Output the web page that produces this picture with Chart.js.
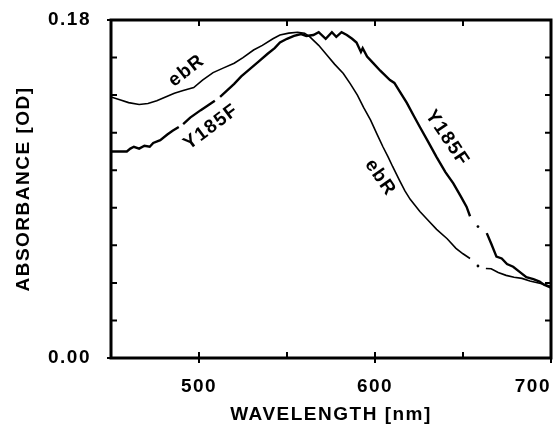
<!DOCTYPE html>
<html>
<head>
<meta charset="utf-8">
<script src="https://cdn.jsdelivr.net/npm/chart.js@4.4.1/dist/chart.umd.min.js"></script>
<style>
  html, body { margin: 0; padding: 0; background: #fff; }
  canvas { display: block; }
</style>
</head>
<body>
<canvas id="absChart" width="559" height="426"></canvas>
<script>
// ebR spectrum (nm, OD) - null = gap in the trace
const ebrWavelength = [450, 455, 460, 466, 471, 476, 481, 486, 491, 497, 502, 508, 514, 520, 525, 531, 536, 542, 546, 551, 556, 560, 563, 568, 573, 577, 582, 586, 590, 593.5, 597.5, 601, 604.5, 607.5, 610, 614, 617, 620, 625.5, 630, 635, 641, 646, 650, 654, 656, 658.5, 661, 663, 666, 670, 674.5, 679, 683.5, 688, 693.5, 697, 700];
const ebrAbsorbance = [0.139, 0.1375, 0.136, 0.135, 0.1355, 0.137, 0.139, 0.141, 0.1425, 0.144, 0.148, 0.152, 0.1545, 0.157, 0.160, 0.164, 0.1665, 0.170, 0.172, 0.173, 0.1735, 0.173, 0.171, 0.1665, 0.161, 0.1565, 0.1515, 0.146, 0.140, 0.1335, 0.1267, 0.1195, 0.1125, 0.107, 0.102, 0.0945, 0.089, 0.0845, 0.078, 0.0735, 0.0685, 0.0635, 0.0584, 0.0555, 0.053, null, 0.049, null, 0.0477, 0.0475, 0.0455, 0.044, 0.043, 0.0424, 0.041, 0.0398, 0.039, 0.038];

// Y185F spectrum (nm, OD)
const y185fWavelength = [450, 455, 459, 461, 463, 466, 469, 472, 474, 478, 482, 485, 488.5, 490, 491, 495, 501, 505, 509, 510.5, 512, 516, 520, 524, 529, 534, 539, 543, 546, 550, 554, 558, 561, 565, 568, 572, 575.5, 578, 581, 584, 587, 589.5, 592, 593, 595.5, 599, 603, 608.5, 611, 614, 618, 622, 625.5, 630, 635, 640, 644.5, 648.5, 652, 654, 656, 658.5, 661, 663.5, 666, 669, 672, 675, 678.5, 682, 686, 690, 693.5, 696, 700];
const y185fAbsorbance = [0.110, 0.110, 0.110, 0.1115, 0.1125, 0.1115, 0.113, 0.1125, 0.1145, 0.116, 0.119, 0.121, 0.123, null, 0.1245, 0.128, 0.132, 0.1345, 0.137, null, 0.139, 0.1425, 0.146, 0.150, 0.154, 0.158, 0.162, 0.165, 0.168, 0.170, 0.1715, 0.1725, 0.1715, 0.172, 0.1735, 0.170, 0.1735, 0.171, 0.1735, 0.172, 0.170, 0.168, 0.163, 0.165, 0.1605, 0.157, 0.153, 0.148, 0.1465, 0.142, 0.136, 0.129, 0.123, 0.1155, 0.107, 0.099, 0.093, 0.0865, 0.0806, 0.0755, null, 0.070, null, 0.0665, 0.061, 0.054, 0.053, 0.050, 0.0486, 0.046, 0.043, 0.042, 0.0407, 0.039, 0.0375];

// axes
const xLabelValues = [450, 500, 600, 700];
const xLabelText = ['', '500', '600', '700'];
const xTickMarks = [500, 550, 600, 650, 700];
const xMajorMarks = [500, 600, 700];
const yLabelValues = [0, 0.18];
const yLabelText = ['0.00', '0.18'];
const yTickMarks = [0.02, 0.04, 0.06, 0.08, 0.10, 0.12, 0.14, 0.16];

// curve annotations [text, wavelength, absorbance, angle]
const curveLabels = [
    ['ebR', 493, 0.153, -38],
    ['Y185F', 507, 0.123, -37],
    ['Y185F', 641, 0.117, 56],
    ['ebR', 603, 0.096, 55]
];

const FONT = "'Liberation Sans', Arial, Helvetica, sans-serif";

function toPoints(xs, ys) {
    return xs.map((v, i) => ({ x: v, y: ys[i] }));
}

// a lone point between two gaps is drawn as a dot
function dotRadius(ctx) {
    const d = ctx.dataset.data;
    const i = ctx.dataIndex;
    if (d[i].y === null) return 0;
    const prev = i > 0 ? d[i - 1].y : null;
    const next = i < d.length - 1 ? d[i + 1].y : null;
    return (prev === null && next === null) ? 1.4 : 0;
}

const framePlugin = {
    id: 'frame',
    beforeDraw(chart) {
        chart.ctx.letterSpacing = '1.5px';
    },
    afterDraw(chart) {
        const { ctx, chartArea: { left, right, top, bottom }, scales: { x, y } } = chart;
        ctx.save();
        ctx.strokeStyle = '#000';
        ctx.lineWidth = 2;
        ctx.beginPath();
        xTickMarks.forEach(v => {
            const px = x.getPixelForValue(v);
            const out = xMajorMarks.includes(v) ? 5 : 0;
            ctx.moveTo(px, bottom - 6);
            ctx.lineTo(px, bottom + out);
            if (v < 700) {
                ctx.moveTo(px, top);
                ctx.lineTo(px, top + 6);
            }
        });
        yTickMarks.forEach(v => {
            const py = y.getPixelForValue(v);
            ctx.moveTo(left, py);
            ctx.lineTo(left + 6, py);
            ctx.moveTo(right - 6, py);
            ctx.lineTo(right, py);
        });
        // small outer ticks at the labelled ends
        yLabelValues.forEach(v => {
            const py = y.getPixelForValue(v);
            ctx.moveTo(left - 4, py);
            ctx.lineTo(left, py);
        });
        ctx.stroke();

        ctx.lineWidth = 3;
        ctx.strokeRect(left, top, right - left, bottom - top);

        // curve names
        ctx.fillStyle = '#000';
        ctx.font = 'bold 19px ' + FONT;
        ctx.textAlign = 'center';
        ctx.textBaseline = 'middle';
        curveLabels.forEach(([txt, wl, ab, ang]) => {
            ctx.save();
            ctx.translate(x.getPixelForValue(wl), y.getPixelForValue(ab));
            ctx.rotate(ang * Math.PI / 180);
            ctx.fillText(txt, 0, 0);
            ctx.restore();
        });
        ctx.restore();
        ctx.letterSpacing = '0px';
    }
};

new Chart(document.getElementById('absChart').getContext('2d'), {
    type: 'line',
    data: {
        datasets: [
            {
                label: 'ebR',
                data: toPoints(ebrWavelength, ebrAbsorbance),
                borderColor: '#000',
                backgroundColor: '#000',
                borderWidth: 1.6,
                pointRadius: dotRadius,
                pointBorderWidth: 0,
                tension: 0,
                spanGaps: false
            },
            {
                label: 'Y185F',
                data: toPoints(y185fWavelength, y185fAbsorbance),
                borderColor: '#000',
                backgroundColor: '#000',
                borderWidth: 2.4,
                pointRadius: dotRadius,
                pointBorderWidth: 0,
                tension: 0,
                spanGaps: false
            }
        ]
    },
    options: {
        responsive: false,
        animation: false,
        devicePixelRatio: 1,
        layout: { padding: { left: 0, right: 8, top: 20, bottom: 0 } },
        plugins: {
            legend: { display: false },
            tooltip: { enabled: false }
        },
        scales: {
            x: {
                type: 'linear',
                min: 450,
                max: 700,
                grid: { display: false },
                border: { display: false },
                afterBuildTicks: s => { s.ticks = xLabelValues.map(v => ({ value: v })); },
                afterFit: s => { s.height = 68; s.paddingLeft = 0; s.paddingRight = 0; },
                ticks: {
                    autoSkip: false,
                    maxRotation: 0,
                    align: 'inner',
                    padding: 9,
                    color: '#000',
                    font: { family: FONT, size: 19, weight: 'bold' },
                    callback: (v) => xLabelText[xLabelValues.indexOf(v)]
                },
                title: {
                    display: true,
                    text: 'WAVELENGTH [nm]',
                    color: '#000',
                    font: { family: FONT, size: 19, weight: 'bold' },
                    padding: { top: 0, bottom: 0 }
                }
            },
            y: {
                min: 0,
                max: 0.18,
                grid: { display: false },
                border: { display: false },
                afterBuildTicks: s => { s.ticks = yLabelValues.map(v => ({ value: v })); },
                afterFit: s => { s.width = 111; s.paddingTop = 0; s.paddingBottom = 0; },
                ticks: {
                    autoSkip: false,
                    padding: 12,
                    color: '#000',
                    font: { family: FONT, size: 19, weight: 'bold' },
                    callback: (v) => yLabelText[yLabelValues.indexOf(v)]
                },
                title: {
                    display: true,
                    text: 'ABSORBANCE [OD]',
                    color: '#000',
                    font: { family: FONT, size: 19, weight: 'bold' },
                    padding: { top: 12, bottom: 0 }
                }
            }
        }
    },
    plugins: [framePlugin]
});
</script>
</body>
</html>
